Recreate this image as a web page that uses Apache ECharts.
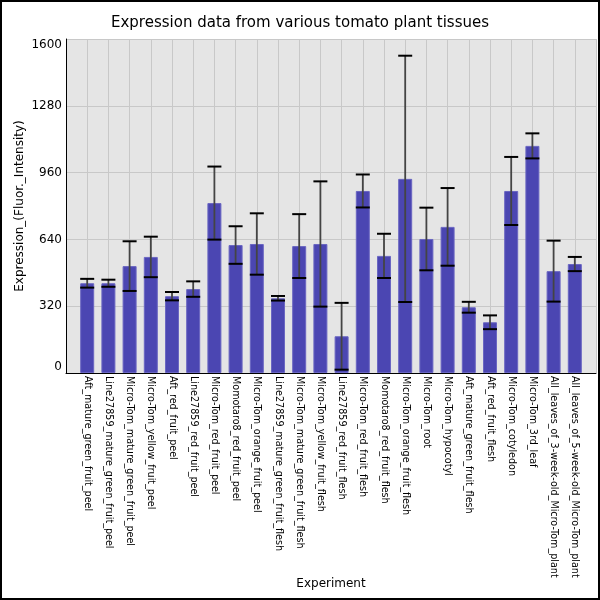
<!DOCTYPE html>
<html>
<head>
<meta charset="utf-8">
<title>Tomato tissue expression</title>
<script src="https://cdn.jsdelivr.net/npm/echarts@6/dist/echarts.min.js"></script>
<style>
  html, body { margin: 0; padding: 0; background: #fff; }
  #chart { width: 600px; height: 600px; }
</style>
</head>
<body>
<div id="chart"></div>
<script>
const tissues = [
  'Aft_mature_green_fruit_peel',
  'Line27859_mature_green_fruit_peel',
  'Micro-Tom_mature_green_fruit_peel',
  'Micro-Tom_yellow_fruit_peel',
  'Aft_red_fruit_peel',
  'Line27859_red_fruit_peel',
  'Micro-Tom_red_fruit_peel',
  'Momotaro8_red_fruit_peel',
  'Micro-Tom_orange_fruit_peel',
  'Line27859_mature_green_fruit_flesh',
  'Micro-Tom_mature_green_fruit_flesh',
  'Micro-Tom_yellow_fruit_flesh',
  'Line27859_red_fruit_flesh',
  'Micro-Tom_red_fruit_flesh',
  'Momotaro8_red_fruit_flesh',
  'Micro-Tom_orange_fruit_flesh',
  'Micro-Tom_root',
  'Micro-Tom_hypocotyl',
  'Aft_mature_green_fruit_flesh',
  'Aft_red_fruit_flesh',
  'Micro-Tom_cotyledon',
  'Micro-Tom_3rd_leaf',
  'All_leaves_of_3-week-old_Micro-Tom_plant',
  'All_leaves_of_5-week-old_Micro-Tom_plant'
];

// mean expression per tissue
const expression = [
  430, 430, 512, 556, 368, 402, 814, 613, 618, 358, 608, 618,
  176, 872, 561, 930, 642, 700, 315, 243, 872, 1088, 488, 522
];

// standard deviation (error bar half height)
const deviation = [
  21, 17, 119, 97, 20, 37, 175, 90, 147, 11, 153, 300,
  160, 79, 106, 590, 150, 186, 26, 33, 163, 60, 146, 34
];

const yTicks = [0, 320, 640, 960, 1280, 1600];

const chart = echarts.init(document.getElementById('chart'));
const font = 'DejaVu Sans';
const barWidth = 14;

const options = {
  animation: false,
  textStyle: { fontFamily: font },
  title: {
    text: 'Expression data from various tomato plant tissues',
    left: 'center',
    top: 11,
    textStyle: { fontFamily: font, fontSize: 15, fontWeight: 'normal', color: '#000' }
  },
  grid: {
    left: 66,
    right: 4,
    top: 39,
    bottom: 227,
    outerBoundsMode: 'none',
    containLabel: false,
    show: true,
    backgroundColor: '#e5e5e5',
    borderWidth: 0
  },
  xAxis: {
    type: 'value',
    min: -1,
    max: tissues.length,
    interval: 1,
    name: 'Experiment',
    nameLocation: 'middle',
    nameGap: 205,
    nameMoveOverlap: false,
    nameTextStyle: { fontFamily: font, fontSize: 12, color: '#000' },
    axisLine: { show: true, onZero: false, lineStyle: { color: '#000', width: 1 } },
    axisTick: { show: false },
    splitLine: { show: true, lineStyle: { color: '#c8c8c8', width: 1 } },
    axisLabel: {
      rotate: -90,
      margin: 3,
      fontFamily: font,
      fontSize: 9.6,
      color: '#000',
      formatter: v => tissues[v] || ''
    }
  },
  yAxis: {
    type: 'value',
    min: yTicks[0],
    max: yTicks[yTicks.length - 1],
    interval: yTicks[1] - yTicks[0],
    name: 'Expression_(Fluor._Intensity)',
    nameLocation: 'middle',
    nameGap: 40,
    nameMoveOverlap: false,
    nameTextStyle: { fontFamily: font, fontSize: 12, color: '#000' },
    axisLine: { show: true, onZero: false, lineStyle: { color: '#000', width: 1 } },
    axisTick: { show: false },
    splitLine: { show: true, lineStyle: { color: '#c8c8c8', width: 1 } },
    axisLabel: {
      margin: 4,
      fontFamily: font,
      fontSize: 12,
      color: '#000',
      formatter: v => String(v),
      verticalAlignMinLabel: 'bottom',
      verticalAlignMaxLabel: 'top'
    }
  },
  graphic: [
    {
      type: 'rect',
      shape: { x: 1, y: 1, width: 598, height: 598 },
      style: { fill: 'none', stroke: '#000', lineWidth: 2 },
      z: 100
    }
  ],
  series: [
    {
      name: 'Expression',
      type: 'bar',
      barWidth: barWidth,
      itemStyle: { color: '#4b46b2', borderColor: '#6a66c2', borderWidth: 1 },
      data: expression.map((v, i) => [i, v])
    },
    {
      name: 'Error',
      type: 'custom',
      z: 5,
      data: expression.map((v, i) => [i, v, deviation[i]]),
      renderItem: (params, api) => {
        const x = api.value(0);
        const mean = api.value(1);
        const sd = api.value(2);
        const top = api.coord([x, mean + sd]);
        const bottom = api.coord([x, mean - sd]);
        const half = barWidth / 2;
        return {
          type: 'group',
          children: [
            {
              type: 'line',
              shape: { x1: top[0], y1: top[1], x2: bottom[0], y2: bottom[1] },
              style: { stroke: '#444', lineWidth: 1.8 }
            },
            {
              type: 'line',
              shape: { x1: top[0] - half, y1: top[1], x2: top[0] + half, y2: top[1] },
              style: { stroke: '#000', lineWidth: 2 }
            },
            {
              type: 'line',
              shape: { x1: bottom[0] - half, y1: bottom[1], x2: bottom[0] + half, y2: bottom[1] },
              style: { stroke: '#000', lineWidth: 2 }
            }
          ]
        };
      }
    }
  ]
};

chart.setOption(options);
</script>
</body>
</html>
